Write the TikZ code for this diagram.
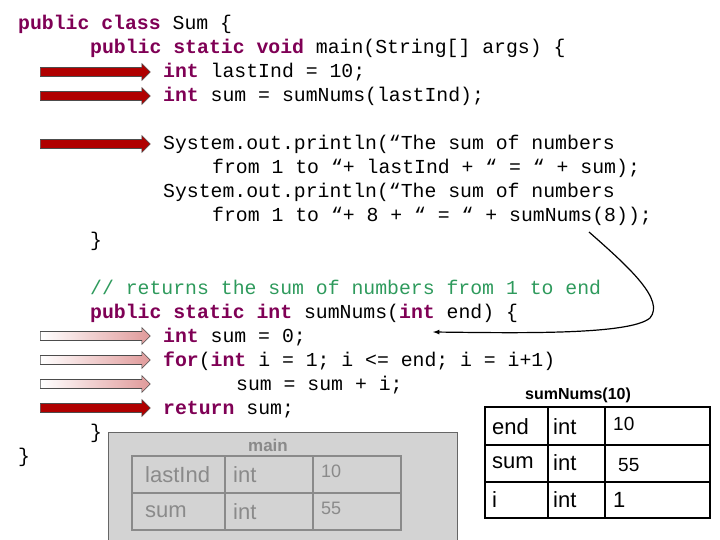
\documentclass[tikz,border=0pt]{standalone}
\usepackage{fontspec}
\setmainfont{Liberation Sans}
\newfontfamily\codefont{Liberation Mono}
\usetikzlibrary{shapes.arrows}
\definecolor{kw}{HTML}{7F0055}
\definecolor{cm}{HTML}{2E9A5C}
\definecolor{darr}{HTML}{B00000}
\definecolor{parr}{HTML}{E09A9A}
\definecolor{boxgray}{HTML}{D3D3D3}
\definecolor{txtgray}{HTML}{8A8A8A}
\begin{document}
\begin{tikzpicture}[x=1pt,y=-1pt,
  code/.style={anchor=base west,inner sep=0pt,font=\codefont\fontsize{19.8}{21}\selectfont},
  arrowbase/.style={single arrow,draw=black!70,line width=0.6pt,minimum height=110pt,minimum width=17pt,single arrow head extend=3pt,inner sep=3pt,anchor=west},
  darrow/.style={arrowbase,fill=darr},
  parrow/.style={arrowbase,left color=white,right color=parr},
  gcell/.style={font=\fontsize{22}{24}\selectfont,text=txtgray,anchor=west,inner sep=0pt},
  bcell/.style={font=\fontsize{22}{24}\selectfont,anchor=west,inner sep=0pt}]
\useasboundingbox (0,0) rectangle (720,540);
\def\kw#1{\textcolor{kw}{\bfseries #1}}
\node[code] (l1) at (18,30) {\kw{public class} Sum \{};
\node[code] (l2) at (90,54) {\kw{public static void} main(String[] args) \{};
\node[code] (l3) at (163,78) {\kw{int} lastInd = 10;};
\node[code] (l4) at (163,102) {\kw{int} sum = sumNums(lastInd);};
\node[code] (l5) at (163,150) {System.out.println(“The sum of numbers};
\node[code] (l6) at (212,174) {from 1 to “+ lastInd + “ = “ + sum);};
\node[code] (l7) at (163,198) {System.out.println(“The sum of numbers};
\node[code] (l8) at (212,222) {from 1 to “+ 8 + “ = “ + sumNums(8));};
\node[code] (l9) at (90,246) {\}};
\node[code,text=cm] (l10) at (90,294) {// returns the sum of numbers from 1 to end};
\node[code] (l11) at (90,318) {\kw{public static int} sumNums(\kw{int} end) \{};
\node[code] (l12) at (163,342) {\kw{int} sum = 0;};
\node[code] (l13) at (163,366) {\kw{for}(\kw{int} i = 1; i <= end; i = i+1)};
\node[code] (l14) at (236,390) {sum = sum + i;};
\node[code] (l15) at (163,414) {\kw{return} sum;};
\node[code] (l16) at (90,438) {\}};
\node[code] (l17) at (18,462) {\}};
% arrows
\node[darrow] (a1) at (40,72) {};
\node[darrow] (a2) at (40,96) {};
\node[darrow] (a3) at (40,144) {};
\node[parrow] (a4) at (40,336) {};
\node[parrow] (a5) at (40,360) {};
\node[parrow] (a6) at (40,384) {};
\node[darrow] (a7) at (40,408) {};
% call curve
\coordinate (cs) at (589,232);
\coordinate (ce) at (433,332);
\draw[line width=1.2pt,-latex] (cs) .. controls (630,268) and (665,300) .. (650,318) .. controls (630,335) and (520,333) .. (ce);
% main frame
\draw[draw=black!60,fill=boxgray,line width=0.8pt] (108,432) rectangle (457,545);
\node[font=\bfseries\fontsize{17}{19}\selectfont,text=txtgray] (mt) at (268,445) {main};
\draw[txtgray,line width=1.5pt] (132,456) rectangle (401,530) (132,493) -- (401,493) (225,456) -- (225,530) (313,456) -- (313,530);
\node[gcell] (m1) at (145,475) {lastInd};
\node[gcell] (m2) at (233,475) {int};
\node[gcell,font=\fontsize{18}{20}\selectfont] (m3) at (321,471) {10};
\node[gcell] (m4) at (145,512) {sum};
\node[gcell] (m5) at (233,512) {int};
\node[gcell,font=\fontsize{18}{20}\selectfont] (m6) at (321,508) {55};
% sumNums frame
\node[font=\bfseries\fontsize{16}{18}\selectfont] (st) at (578,395) {sumNums(10)};
\draw[line width=1.5pt] (485,407) rectangle (710,518) (485,445) -- (710,445) (485,482) -- (710,482) (548,407) -- (548,518) (605,407) -- (605,518);
\node[bcell] (s1) at (492,427) {end};
\node[bcell] (s2) at (553,427) {int};
\node[bcell,font=\fontsize{19}{21}\selectfont] (s3) at (613,424) {10};
\node[bcell] (s4) at (492,463) {sum};
\node[bcell] (s5) at (553,463) {int};
\node[bcell,font=\fontsize{19}{21}\selectfont] (s6) at (618,465) {55};
\node[bcell] (s7) at (492,500) {i};
\node[bcell] (s8) at (553,500) {int};
\node[bcell] (s9) at (613,500) {1};
\end{tikzpicture}
\end{document}
